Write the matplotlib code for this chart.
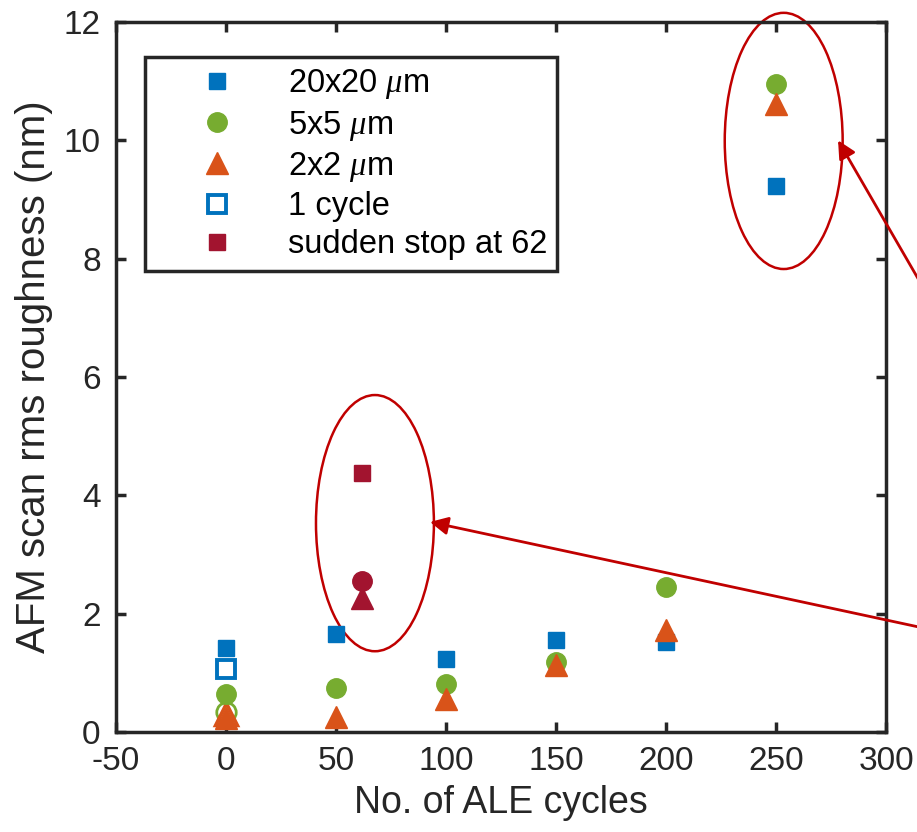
import matplotlib.pyplot as plt
from matplotlib.patches import Ellipse

plt.rcParams['font.family'] = ['Liberation Sans', 'DejaVu Sans']
plt.rcParams['mathtext.fontset'] = 'custom'
plt.rcParams['mathtext.it'] = 'Liberation Serif:italic'
plt.rcParams['mathtext.rm'] = 'Liberation Sans'
plt.rcParams['axes.unicode_minus'] = False

# data
cycles = [0, 50, 100, 150, 200, 250]
rough_20 = [1.42, 1.65, 1.23, 1.55, 1.52, 9.23]
rough_5 = [0.64, 0.74, 0.81, 1.18, 2.45, 10.95]
rough_2 = [0.24, 0.25, 0.56, 1.13, 1.72, 10.61]

one_cycle_x = [0, 0, 0]
one_cycle_y = [1.06, 0.33, 0.30]

stop_x = 62
stop_20 = 4.38
stop_5 = 2.55
stop_2 = 2.26

blue = '#0072BD'
green = '#77AC30'
orange = '#D95319'
crimson = '#A2142F'
red = '#C00000'
dark = '#262626'

fig = plt.figure(figsize=(9.17, 8.32), dpi=100)
ax = fig.add_axes([116 / 917, 1 - 732 / 832, 770 / 917, 710 / 832])

ax.plot(one_cycle_x[1], one_cycle_y[1], 'o', mfc='none', mec=green, mew=2, ms=14)
ax.plot(one_cycle_x[2], one_cycle_y[2], '^', mfc='none', mec=orange, mew=2.5, ms=15.5)
ax.plot(cycles, rough_20, 's', color=blue, ms=11, mec=blue, label=r'20x20 $\mu$m')
ax.plot(cycles, rough_5, 'o', color=green, ms=14, mec=green, label=r'5x5 $\mu$m')
ax.plot(cycles, rough_2, '^', color=orange, ms=15.5, mec=orange, label=r'2x2 $\mu$m')
ax.plot(one_cycle_x[0], one_cycle_y[0], 's', mfc='white', mec=blue, mew=2.8, ms=13, label='1 cycle')
ax.plot(stop_x, stop_20, 's', color=crimson, ms=11, label='sudden stop at 62')
ax.plot(stop_x, stop_5, 'o', color=crimson, ms=14)
ax.plot(stop_x, stop_2, '^', color=crimson, ms=15.5)

# ellipses around the interesting groups
ax.add_patch(Ellipse((67.7, 3.53), 53.6, 4.33, fill=False, ec=red, lw=1.8, clip_on=False))
ax.add_patch(Ellipse((253.5, 9.99), 53.6, 4.33, fill=False, ec=red, lw=1.8, clip_on=False))

arrow = dict(arrowstyle='-|>,head_length=0.6,head_width=0.3', color=red, lw=2,
             mutation_scale=18, shrinkA=0, shrinkB=0)
ax.annotate('', xy=(92.7, 3.55), xytext=(351.8, 1.48), arrowprops=arrow, annotation_clip=False)
ax.annotate('', xy=(278.2, 10.0), xytext=(333.6, 6.44), arrowprops=arrow, annotation_clip=False)

ax.set_xlim(-50, 300)
ax.set_ylim(0, 12)
ax.set_xticks(range(-50, 301, 50))
ax.set_yticks(range(0, 13, 2))
ax.tick_params(direction='in', length=7, width=2.5, labelsize=24, colors=dark,
               top=True, right=True)
ax.tick_params(axis='x', pad=10)
ax.tick_params(axis='y', pad=11)
for s in ax.spines.values():
    s.set_linewidth(2.5)
    s.set_color(dark)
ax.set_xlabel('No. of ALE cycles', fontsize=27, color=dark, labelpad=6)
ax.set_ylabel('AFM scan rms roughness (nm)', fontsize=29, color=dark, labelpad=8)

leg = ax.legend(loc='upper left', bbox_to_anchor=(145 / 917, 1 - 57 / 832),
                bbox_transform=fig.transFigure, fontsize=23.5,
                frameon=True, fancybox=False, edgecolor=dark, facecolor='white',
                framealpha=1, handletextpad=0.3, borderpad=0.32,
                labelspacing=0.22, handlelength=3.75, borderaxespad=0)
leg.get_frame().set_linewidth(2.5)
for t in leg.get_texts():
    t.set_color('black')

fig.savefig('out.png', dpi=100)
